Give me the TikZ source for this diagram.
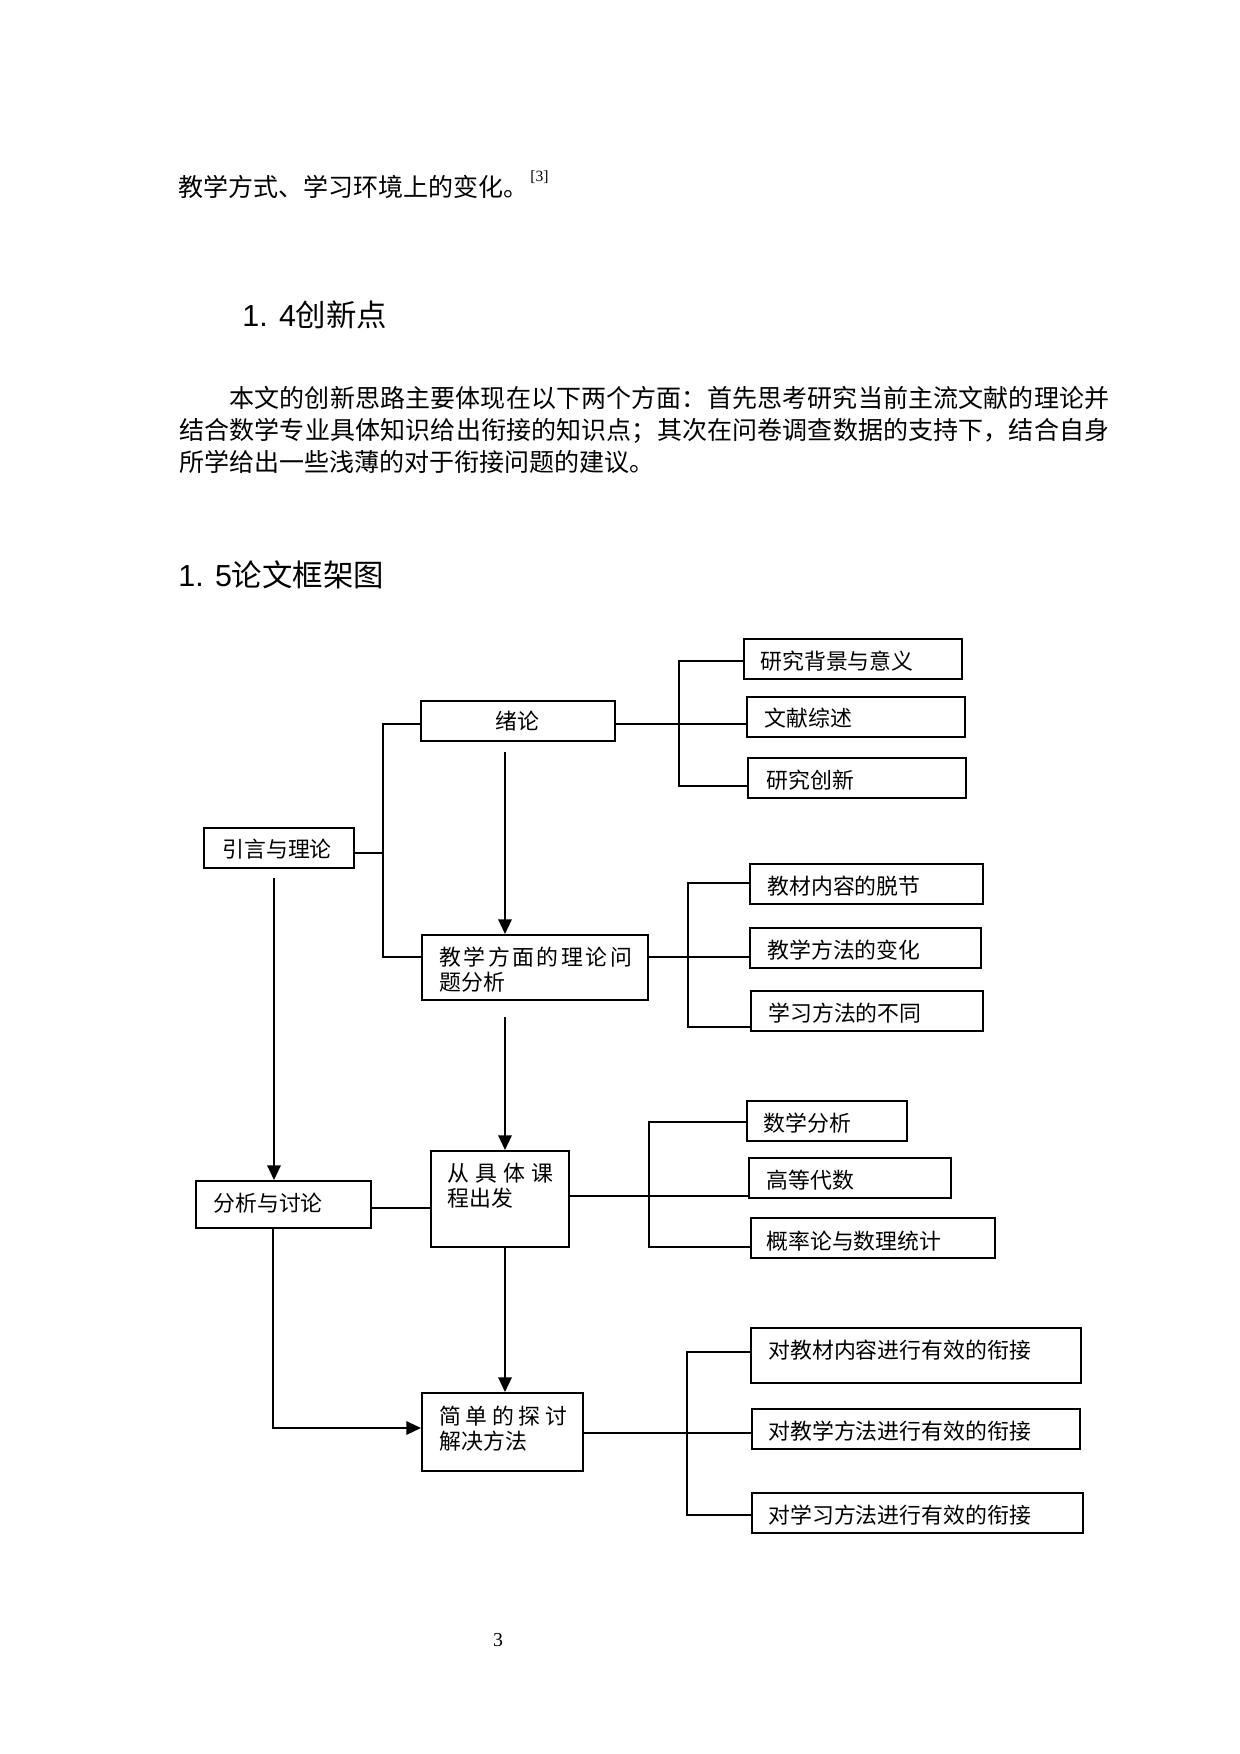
\documentclass[tikz,border=0pt]{standalone}
\usepackage{fontspec}
\setmainfont{Noto Sans CJK SC}
\newfontfamily\cjk{Noto Sans CJK SC}
\newfontfamily\lsans{Liberation Sans}
\newfontfamily\lserif{Liberation Serif}
\usetikzlibrary{arrows.meta}
\XeTeXlinebreaklocale "zh"
\XeTeXlinebreakskip=0pt plus 2pt
\newcommand{\mkbox}[5]{\node[boxst, minimum width={(#4-#2)*0.48pt}, minimum height={(#5-#3)*0.48pt}] (#1) at ({(#2+#4)/2},{(#3+#5)/2}) {};}
\tikzset{
  boxst/.style={draw, line width=0.95pt, inner sep=0pt},
  lbl/.style={anchor=west, inner sep=0pt, font=\cjk\fontsize{10.5pt}{12.6pt}\selectfont},
  conn/.style={line width=0.9pt},
  arr/.style={line width=0.9pt, -{Triangle[length=7pt,width=6.4pt]}},
  body/.style={inner sep=0pt, font=\cjk\fontsize{12pt}{15.25pt}\selectfont},
  head/.style={anchor=west, inner sep=0pt, font=\fontsize{14.6pt}{17pt}\selectfont},
}
\begin{document}
\begin{tikzpicture}[x=0.48pt,y=-0.48pt]
\fill[white] (0,0) rectangle (1240,1754);
\useasboundingbox (0,0) rectangle (1240,1754);

% ---- text above the diagram ----
\node[body, anchor=west] (t1) at (178,187) {教学方式、学习环境上的变化。};
\node[anchor=west, inner sep=0pt, font=\lserif\fontsize{7.5pt}{9pt}\selectfont] (t1ref) at (530,177) {[3]};
\node[head] (h14) at (242,315) {\lsans 1. 4\cjk 创新点};
\node[body, anchor=north west, text width=446.4pt, align=justify] (para) at (179,386)
 {\noindent\hspace*{2em}本文的创新思路主要体现在以下两个方面：首先思考研究当前主流文献的理论并\linebreak 结合数学专业具体知识给出衔接的知识点；其次在问卷调查数据的支持下，结合自身\linebreak 所学给出一些浅薄的对于衔接问题的建议。};
\node[head] (h15) at (178,575) {\lsans 1. 5\cjk 论文框架图};

% ---- boxes ----
\mkbox{bbg}{744}{639}{962}{679}
\mkbox{bwx}{747}{697}{965}{737}
\mkbox{bcx}{748}{758}{966}{798}
\mkbox{bxl}{421}{701}{615}{741}
\mkbox{byy}{204}{828}{354}{868}
\mkbox{bjc}{750}{864}{983}{904}
\mkbox{bjf}{422}{935}{648}{1000}
\mkbox{bjx}{750}{928}{981}{968}
\mkbox{bxx}{751}{991}{983}{1031}
\mkbox{bsx}{747}{1101}{907}{1141}
\mkbox{bgd}{749}{1158}{951}{1198}
\mkbox{bgl}{751}{1218}{995}{1258}
\mkbox{bfx}{196}{1181}{371}{1228}
\mkbox{bcj}{431}{1151}{569}{1247}
\mkbox{bda}{751}{1328}{1081}{1383}
\mkbox{bjd}{422}{1393}{583}{1471}
\mkbox{bdb}{752}{1409}{1080}{1449}
\mkbox{bdc}{752}{1493}{1083}{1533}

% ---- labels ----
\node[lbl] (lbg) at (760,661) {研究背景与意义};
\node[lbl] (lwx) at (764,718) {文献综述};
\node[lbl] (lcx) at (766,780) {研究创新};
\node[lbl, anchor=center] (lxl) at (517,721) {绪论};
\node[lbl] (lyy) at (222,849) {引言与理论};
\node[lbl] (ljf1) at (439,957) {教\kern1.2pt 学\kern1.2pt 方\kern1.2pt 面\kern1.2pt 的\kern1.2pt 理\kern1.2pt 论\kern1.2pt 问};
\node[lbl] (ljf2) at (439,982) {题分析};
\node[lbl] (ljc) at (767,886) {教材内容的脱节};
\node[lbl] (ljx) at (767,950) {教学方法的变化};
\node[lbl] (lxx) at (768,1013) {学习方法的不同};
\node[lbl] (lsx) at (763,1123) {数学分析};
\node[lbl] (lgd) at (766,1180) {高等代数};
\node[lbl] (lgl) at (766,1241) {概率论与数理统计};
\node[lbl] (lfx) at (213,1203) {分析与讨论};
\node[lbl] (lcj1) at (447,1173) {从\kern2.9pt 具\kern2.9pt 体\kern2.9pt 课};
\node[lbl] (lcj2) at (447,1198) {程出发};
\node[lbl] (ljd1) at (439,1416) {简\kern2.2pt 单\kern2.2pt 的\kern2.2pt 探\kern2.2pt 讨};
\node[lbl] (ljd2) at (439,1441) {解决方法};
\node[lbl] (lda) at (768,1350) {对教材内容进行有效的衔接};
\node[lbl] (ldb) at (768,1431) {对教学方法进行有效的衔接};
\node[lbl] (ldc) at (768,1515) {对学习方法进行有效的衔接};

% ---- connectors ----
\coordinate (k1) at (383,853);
\coordinate (k1t) at (383,724);
\coordinate (k1b) at (383,957);
\draw[conn] (byy.east |- k1) -- (k1);
\draw[conn] (bxl.west |- k1t) -- (k1t) -- (k1b) -- (bjf.west |- k1b);

\coordinate (k2t) at (679,661);
\coordinate (k2m) at (679,724);
\coordinate (k2b) at (679,786);
\draw[conn] (bxl.east |- k2m) -- (bwx.west |- k2m);
\draw[conn] (bbg.west |- k2t) -- (k2t) -- (k2b) -- (bcx.west |- k2b);

\coordinate (a1) at (505,752);
\draw[arr] (a1) -- (bjf.north -| a1);

\coordinate (k3t) at (688,883);
\coordinate (k3m) at (688,957);
\coordinate (k3b) at (688,1027);
\draw[conn] (bjf.east |- k3m) -- (bjx.west |- k3m);
\draw[conn] (bjc.west |- k3t) -- (k3t) -- (k3b) -- (bxx.west |- k3b);

\coordinate (a2) at (505,1017);
\draw[arr] (a2) -- (bcj.north -| a2);

\coordinate (a4) at (274,878);
\draw[arr] (a4) -- (bfx.north -| a4);

\coordinate (k4) at (400,1208);
\draw[conn] (bfx.east |- k4) -- (bcj.west |- k4);

\coordinate (k5t) at (649,1122);
\coordinate (k5m) at (649,1196);
\coordinate (k5b) at (649,1247);
\draw[conn] (bcj.east |- k5m) -- (bgd.west |- k5m);
\draw[conn] (bsx.west |- k5t) -- (k5t) -- (k5b) -- (bgl.west |- k5b);

\coordinate (a3) at (505,1247);
\draw[arr] (a3) -- (bjd.north -| a3);

\coordinate (k6) at (273,1428);
\draw[arr] (bfx.south -| k6) -- (k6) -- (bjd.west |- k6);

\coordinate (k7t) at (687,1352);
\coordinate (k7m) at (687,1433);
\coordinate (k7b) at (687,1515);
\draw[conn] (bjd.east |- k7m) -- (bdb.west |- k7m);
\draw[conn] (bda.west |- k7t) -- (k7t) -- (k7b) -- (bdc.west |- k7b);

% ---- page number ----
\node[inner sep=0pt, font=\lserif\fontsize{9.5pt}{11pt}\selectfont] (pg) at (498,1640) {3};
\end{tikzpicture}
\end{document}
